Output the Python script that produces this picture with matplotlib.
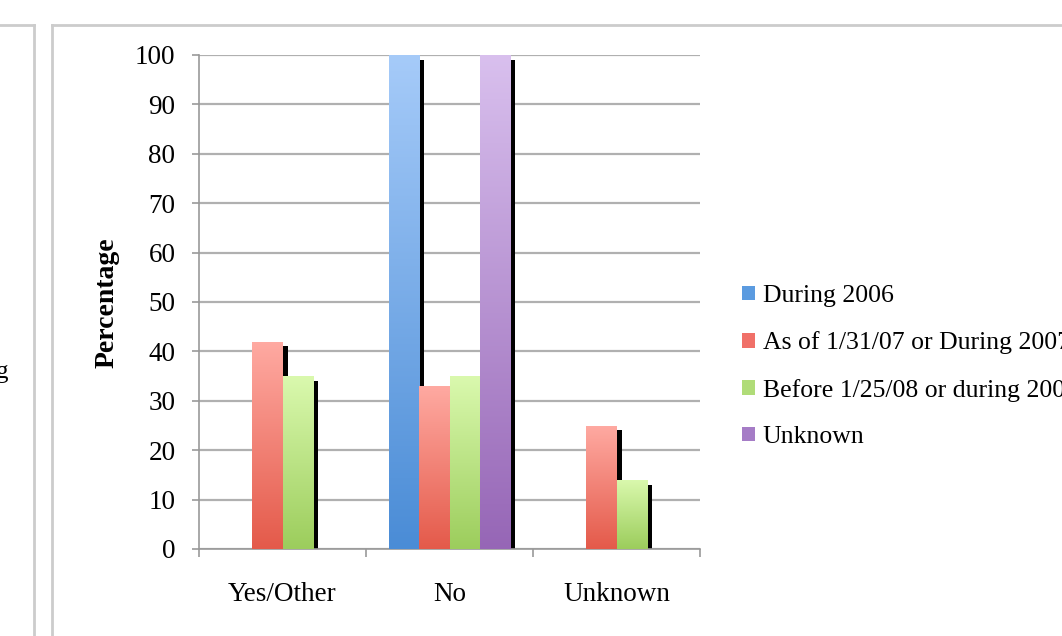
import numpy as np
import matplotlib
matplotlib.use("Agg")
import matplotlib.pyplot as plt
from matplotlib.colors import LinearSegmentedColormap
from matplotlib.patches import Patch
from matplotlib.lines import Line2D

# data
categories = ["Yes/Other", "No", "Unknown"]
series = ["During 2006", "As of 1/31/07 or During 2007",
          "Before 1/25/08 or during 2008", "Unknown"]
during_2006 = [0, 100, 0]
as_of_2007 = [42, 33, 25]
before_2008 = [35, 35, 14]
unknown = [0, 100, 0]
yticks = list(range(0, 101, 10))

values = [during_2006, as_of_2007, before_2008, unknown]
# (top colour, bottom colour, legend colour) for each series
colours = [("#a6cbf9", "#4a8cd6", "#5b9be0"),
           ("#ffaaa2", "#e45a4a", "#f07068"),
           ("#daf9ae", "#9ccd5c", "#b0dc78"),
           ("#d9c0ee", "#9666b6", "#a57cc6")]

plt.rcParams['font.family'] = ['Liberation Serif', 'DejaVu Serif']

fig = plt.figure(figsize=(10.62, 6.36), dpi=100)
ax = fig.add_axes([199 / 1062, 1 - 549 / 636, 501 / 1062, 494 / 636])

x = np.arange(len(categories))
width = 0.18
dx = 0.03   # shadow offset, category units
dy = 1.0    # shadow offset, data units

for i, (vals, (top, bot, mid)) in enumerate(zip(values, colours)):
    pos = x + (i - 1.5) * width
    # black drop shadow behind the bars
    shadow = [max(v - dy, 0) for v in vals]
    ax.bar(pos + dx, shadow, width, color="black", zorder=1)
    bars = ax.bar(pos, vals, width, color=mid, zorder=2)
    cmap = LinearSegmentedColormap.from_list("g%d" % i, [bot, top])
    grad = np.linspace(0, 1, 256).reshape(-1, 1)
    for b in bars:
        h = b.get_height()
        if h <= 0:
            continue
        im = ax.imshow(grad, cmap=cmap, aspect="auto", origin="lower",
                       extent=(b.get_x(), b.get_x() + b.get_width(), 0, h),
                       zorder=3)
        im.set_clip_path(b)

ax.set_xlim(-0.5, 2.5)
ax.set_ylim(0, 100)
ax.set_yticks(yticks)
ax.set_xticks(x)
ax.set_xticklabels(categories, fontsize=19.5)
ax.set_xticks([-0.5, 0.5, 1.5, 2.5], minor=True)
ax.tick_params(axis="x", which="major", length=0, pad=24)
ax.tick_params(axis="x", which="minor", length=6, color="#999999", width=1.2)
ax.tick_params(axis="y", length=5, color="#999999", width=1.2, pad=12,
               labelsize=19.5)

ax.yaxis.grid(True, color="#b0b0b0", linewidth=1.6, zorder=0)
ax.set_axisbelow(True)
for s in ["top", "right"]:
    ax.spines[s].set_visible(False)
for s in ["left", "bottom"]:
    ax.spines[s].set_color("#999999")
    ax.spines[s].set_linewidth(1.2)

fig.text(107 / 1062, 1 - 303 / 636, "Percentage", rotation=90,
         ha="center", va="center", fontsize=20, fontweight="bold")

handles = [Patch(facecolor=c[2], edgecolor="none") for c in colours]
fig.legend(handles, series, loc="upper left",
           bbox_to_anchor=(742 / 1062, 1 - 285 / 636),
           frameon=False, fontsize=18.5, borderpad=0, borderaxespad=0,
           handlelength=0.5, handleheight=0.5, handletextpad=0.3,
           labelspacing=0.95)

# page frames around the chart
fc = "#cccccc"
fig.add_artist(Line2D([52 / 1062, 52 / 1062], [0, 1 - 25 / 636],
                      color=fc, lw=2, transform=fig.transFigure))
fig.add_artist(Line2D([52 / 1062, 1], [1 - 25 / 636, 1 - 25 / 636],
                      color=fc, lw=2, transform=fig.transFigure))
fig.add_artist(Line2D([34 / 1062, 34 / 1062], [0, 1 - 25 / 636],
                      color=fc, lw=2, transform=fig.transFigure))
fig.add_artist(Line2D([0, 34 / 1062], [1 - 25 / 636, 1 - 25 / 636],
                      color=fc, lw=2, transform=fig.transFigure))
fig.text(8 / 1062, 1 - 372 / 636, "g", ha="right", va="center", fontsize=18)

fig.savefig("out.png", dpi=100)
